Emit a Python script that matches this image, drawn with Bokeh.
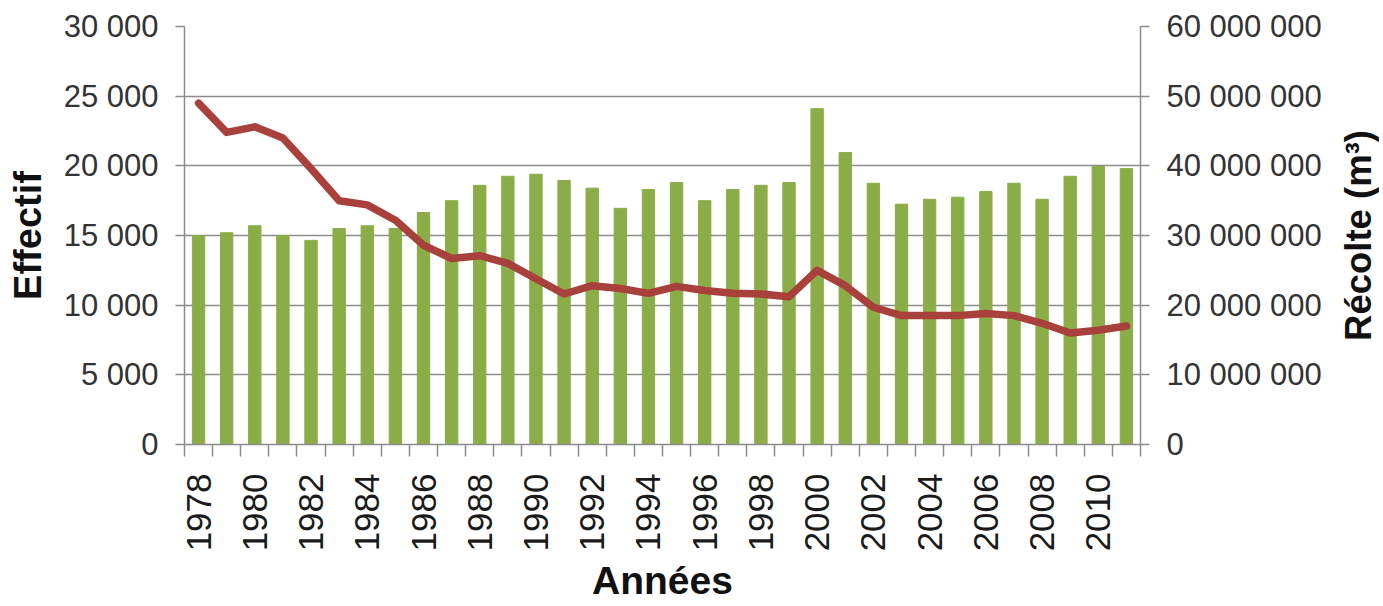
import math
from bokeh.plotting import figure
from bokeh.layouts import row
from bokeh.models import Range1d, LinearAxis, FixedTicker, CustomJSTickFormatter
from bokeh.embed import file_html
from bokeh.resources import INLINE

# ---- data ----
years = list(range(1978, 2012))
recolte = [30000000, 30400000, 31400000, 30000000, 29300000, 31000000, 31400000,
           31000000, 33300000, 35000000, 37200000, 38500000, 38800000, 37900000,
           36800000, 33900000, 36600000, 37600000, 35000000, 36600000, 37200000,
           37600000, 48200000, 41900000, 37500000, 34500000, 35200000, 35500000,
           36300000, 37500000, 35200000, 38500000, 39900000, 39600000]
effectif = [24500, 22400, 22800, 22000, 19800, 17500, 17200, 16100, 14300, 13350,
            13550, 13000, 11900, 10800, 11400, 11200, 10850, 11350, 11050, 10850,
            10800, 10600, 12500, 11400, 9850, 9250, 9250, 9250, 9400, 9250,
            8700, 8000, 8200, 8500]
effectif_ticks = [0, 5000, 10000, 15000, 20000, 25000, 30000]
recolte_ticks = [0, 10000000, 20000000, 30000000, 40000000, 50000000, 60000000]
year_labels = [1978, 1980, 1982, 1984, 1986, 1988, 1990, 1992, 1994, 1996, 1998,
               2000, 2002, 2004, 2006, 2008, 2010]

FONT = "Liberation Sans"
GRID = "#8c8c8c"
BAR = "#8bad47"
LINE = "#a8413b"
JS_FMT = r"return Math.round(tick).toString().replace(/\B(?=(\d{3})+(?!\d))/g, ' ');"

p = figure(frame_width=956, frame_height=418, output_backend="svg", toolbar_location=None,
           x_range=Range1d(years[0] - 0.5, years[-1] + 0.5),
           y_range=Range1d(effectif_ticks[0], effectif_ticks[-1]),
           min_border_left=184, min_border_right=193,
           min_border_top=26, min_border_bottom=162)
p.outline_line_color = None
p.background_fill_color = "white"
p.border_fill_color = "white"
p.extra_y_ranges = {"recolte": Range1d(recolte_ticks[0], recolte_ticks[-1])}

# x axis
xa = p.xaxis[0]
xa.ticker = FixedTicker(ticks=year_labels,
                        minor_ticks=[y - 0.5 for y in years] + [years[-1] + 0.5])
xa.major_tick_out = 12
xa.major_tick_in = 0
xa.major_tick_line_color = None
xa.minor_tick_out = 12
xa.minor_tick_in = 0
xa.minor_tick_line_color = GRID
xa.minor_tick_line_width = 1.5
xa.axis_line_color = GRID
xa.axis_line_width = 1.5
xa.major_label_orientation = math.pi / 2
xa.major_label_standoff = 17
xa.major_label_text_font = FONT
xa.major_label_text_font_size = "35px"
xa.major_label_text_color = "#1a1a1a"
xa.axis_label = "Années"
xa.axis_label_text_font = FONT
xa.axis_label_text_font_size = "39px"
xa.axis_label_text_font_style = "bold"
xa.axis_label_text_color = "#111111"
xa.axis_label_standoff = 5

# left axis
ya = p.yaxis[0]
ya.ticker = FixedTicker(ticks=effectif_ticks)
ya.formatter = CustomJSTickFormatter(code=JS_FMT)
ya.major_tick_out = 9
ya.major_tick_in = 0
ya.major_tick_line_color = GRID
ya.major_tick_line_width = 1.5
ya.minor_tick_line_color = None
ya.axis_line_color = GRID
ya.axis_line_width = 1.5
ya.major_label_standoff = 17
ya.major_label_text_font = FONT
ya.major_label_text_font_size = "31px"
ya.major_label_text_color = "#333333"
ya.axis_label = "Effectif"
ya.axis_label_text_font = FONT
ya.axis_label_text_font_size = "38px"
ya.axis_label_text_font_style = "bold"
ya.axis_label_text_color = "#111111"
ya.axis_label_standoff = 12

# right axis (ticks and labels)
ra = LinearAxis(y_range_name="recolte", ticker=FixedTicker(ticks=recolte_ticks),
                formatter=CustomJSTickFormatter(code=JS_FMT))
ra.major_tick_out = 9
ra.major_tick_in = 0
ra.major_tick_line_color = GRID
ra.major_tick_line_width = 1.5
ra.minor_tick_line_color = None
ra.axis_line_color = GRID
ra.axis_line_width = 1.5
ra.major_label_standoff = 17
ra.major_label_text_font = FONT
ra.major_label_text_font_size = "31px"
ra.major_label_text_color = "#333333"
p.add_layout(ra, "right")

# grid
p.xgrid.visible = False
p.ygrid.ticker = FixedTicker(ticks=effectif_ticks)
p.ygrid.grid_line_color = GRID
p.ygrid.grid_line_width = 1.5

# data
p.vbar(x=years, top=recolte, bottom=0, width=0.44, color=BAR, y_range_name="recolte")
p.line(x=years, y=effectif, line_color=LINE, line_width=7.5,
       line_join="round", line_cap="round")

# narrow companion panel carrying the right-hand title (reads bottom-to-top)
p2 = figure(frame_width=1, frame_height=418, output_backend="svg", toolbar_location=None,
            x_axis_type=None, x_range=Range1d(0, 1),
            y_range=Range1d(recolte_ticks[0], recolte_ticks[-1]),
            min_border_left=45, min_border_right=0,
            min_border_top=11, min_border_bottom=177)
p2.outline_line_color = None
p2.background_fill_color = "white"
p2.border_fill_color = "white"
p2.ygrid.visible = False
ta = p2.yaxis[0]
ta.ticker = FixedTicker(ticks=[])
ta.axis_line_color = None
ta.major_tick_line_color = None
ta.minor_tick_line_color = None
ta.major_tick_out = 0
ta.major_tick_in = 0
ta.axis_label = "Récolte (m³)"
ta.axis_label_text_font = FONT
ta.axis_label_text_font_size = "36.5px"
ta.axis_label_text_font_style = "bold"
ta.axis_label_text_color = "#111111"
ta.axis_label_standoff = 0

layout = row(p, p2)
open("out.html", "w").write(file_html(layout, INLINE))
